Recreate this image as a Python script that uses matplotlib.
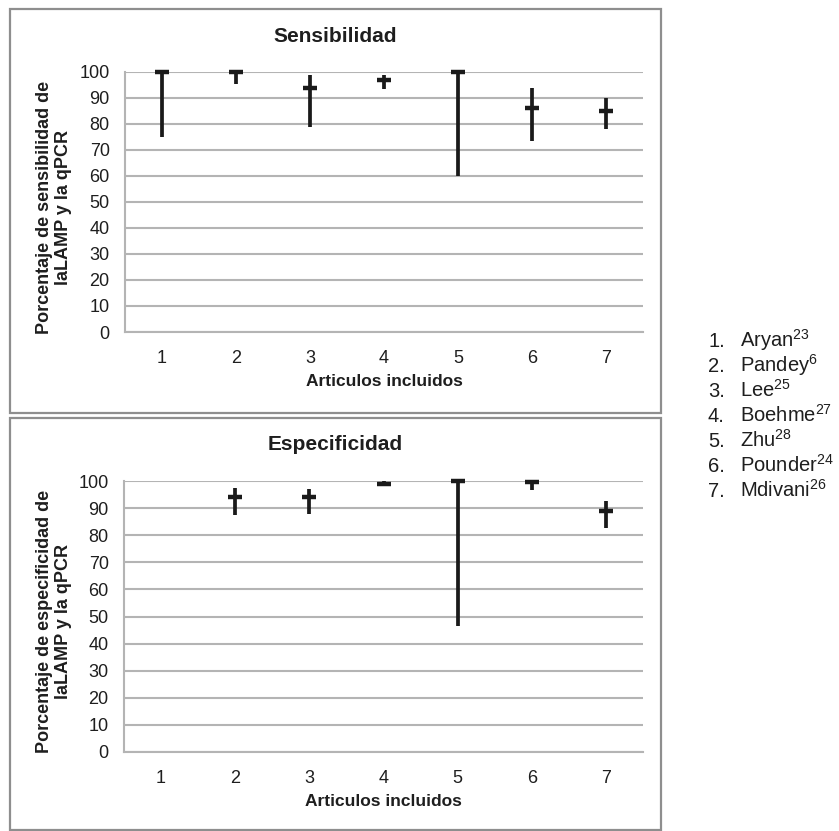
import numpy as np
import matplotlib
matplotlib.use("Agg")
import matplotlib.pyplot as plt
from matplotlib.patches import Rectangle

plt.rcParams['font.family'] = ['Liberation Sans', 'DejaVu Sans']
plt.rcParams['mathtext.fontset'] = 'custom'
plt.rcParams['mathtext.rm'] = 'Liberation Sans'
plt.rcParams['mathtext.it'] = 'Liberation Sans'

# ---- data ----
articles = [1, 2, 3, 4, 5, 6, 7]
sens_point = [100, 100, 94, 97, 100, 86, 85]
sens_low = [75, 95.5, 79, 93.5, 60, 73.5, 78]
sens_high = [100, 100, 99, 99, 100, 94, 90]

esp_point = [np.nan, 94, 94, 99, 100, 99.5, 89]
esp_low = [np.nan, 87.5, 88, 98, 46.5, 96.5, 82.5]
esp_high = [np.nan, 97.5, 97, 100, 100, 100, 92.5]

legend_nums = ["1.", "2.", "3.", "4.", "5.", "6.", "7."]
legend_names = ["Aryan", "Pandey", "Lee", "Boehme", "Zhu", "Pounder", "Mdivani"]
legend_refs = ["23", "6", "25", "27", "28", "24", "26"]

yticks = [0, 10, 20, 30, 40, 50, 60, 70, 80, 90, 100]

W, H = 839, 831
fig = plt.figure(figsize=(W / 100, H / 100), dpi=100)
fig.patch.set_facecolor('white')

TXT = '#1e1e1e'
GRID = '#b4b4b4'
BORDER = '#8e8e8e'


def fx(x):
    return x / W


def fy(y):
    return 1 - y / H


def panel(box, axbox, title, title_y, ylabel, xlabel_y, ylabel_y, point, low, high):
    x0, y0, x1, y1 = box
    fig.patches.append(Rectangle((fx(x0), fy(y1)), fx(x1) - fx(x0), fy(y0) - fy(y1),
                                 transform=fig.transFigure, fill=False,
                                 edgecolor=BORDER, linewidth=1.6, zorder=0))
    l, t, r, b = axbox
    ax = fig.add_axes([fx(l), fy(b), fx(r) - fx(l), fy(t) - fy(b)])
    ax.set_xlim(0.5, 7.5)
    ax.set_ylim(0, 100)
    ax.set_yticks(yticks)
    ax.set_xticks(articles)
    ax.yaxis.grid(True, color=GRID, linewidth=1.5)
    ax.set_axisbelow(True)
    for s in ['top', 'right']:
        ax.spines[s].set_visible(False)
    for s in ['left', 'bottom']:
        ax.spines[s].set_color(GRID)
        ax.spines[s].set_linewidth(1.5)
    ax.tick_params(length=0, labelsize=13, colors=TXT)
    ax.tick_params(axis='y', pad=11)
    ax.tick_params(axis='x', pad=13)
    ax.vlines(articles, low, high, colors='#1a1a1a', linewidth=2.7, clip_on=False, zorder=3)
    ax.plot(articles, point, linestyle='none', marker='_', markersize=9.5,
            markeredgewidth=3.2, color='#1a1a1a', clip_on=False, zorder=4)
    fig.text(fx(335), fy(title_y), title, ha='center', va='center',
             fontsize=15, fontweight='bold', color=TXT)
    fig.text(fx((l + r) / 2), fy(xlabel_y), "Articulos incluidos", ha='center', va='center',
             fontsize=12.5, fontweight='bold', color=TXT)
    fig.text(fx(54), fy(ylabel_y), ylabel, ha='center', va='center', rotation=90,
             fontsize=13, fontweight='bold', color=TXT, linespacing=1.1,
             multialignment='center')
    return ax


panel((10, 9, 661, 413), (125, 72, 643, 332), "Sensibilidad", 36,
      "Porcentaje de sensibilidad de\nlaLAMP y la qPCR", 381, 207,
      sens_point, sens_low, sens_high)
panel((10, 418, 661, 830), (124, 481, 643, 752), "Especificidad", 445,
      "Porcentaje de especificidad de\nlaLAMP y la qPCR", 801, 621,
      esp_point, esp_low, esp_high)

for i, (n, name, ref) in enumerate(zip(legend_nums, legend_names, legend_refs)):
    yb = 347 + 25 * i
    fig.text(fx(708), fy(yb), n, ha='left', va='baseline', fontsize=14.5, color=TXT)
    fig.text(fx(740), fy(yb), name + r"$^{" + ref + r"}$", ha='left', va='baseline',
             fontsize=14.5, color=TXT)

fig.savefig("out.png", dpi=100, facecolor='white')
